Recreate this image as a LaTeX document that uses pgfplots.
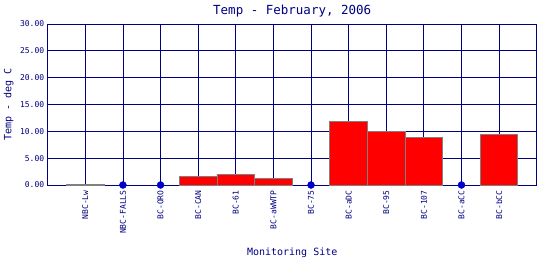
\documentclass[border=0pt]{standalone}
\usepackage{fontspec}
\setmainfont{DejaVu Sans Mono}
\usepackage{pgfplots}
\pgfplotsset{compat=1.18}
\definecolor{navy}{RGB}{0,0,128}
\definecolor{dotblue}{RGB}{0,0,205}
\definecolor{barred}{RGB}{255,0,0}
\definecolor{bargray}{RGB}{128,128,128}
\begin{document}
\begin{tikzpicture}
\useasboundingbox (0pt,0pt) rectangle (540pt,260pt);
\begin{axis}[
  at={(47.7pt,75pt)}, anchor=south west,
  scale only axis, width=489pt, height=161pt,
  xmin=-1, xmax=12, ymin=0, ymax=30,
  ytick={0,5,10,15,20,25,30},
  xtick={0,1,2,3,4,5,6,7,8,9,10,11},
  xticklabels={NBC-Lw,NBC-FALLS,BC-ORO,BC-CAN,BC-61,BC-aWWTP,BC-75,BC-aDC,BC-95,BC-107,BC-aCC,BC-bCC},
  grid=major,
  grid style={draw=navy, line width=0.8pt},
  major grid style={draw=navy, line width=0.8pt},
  axis line style={draw=navy, line width=0.8pt},
  major tick style={draw=none},
  yticklabel style={font=\fontsize{8}{8}\selectfont, color=navy,
    /pgf/number format/.cd, fixed, fixed zerofill, precision=2, assume math mode=true},
  xticklabel style={font=\fontsize{8}{8}\selectfont, color=navy, rotate=90, anchor=east, xshift=-2pt},
  title={Temp - February, 2006},
  title style={font=\fontsize{12.5}{12.5}\selectfont, color=navy, at={(axis description cs:0.5,1.045)}, anchor=center},
  xlabel={Monitoring Site},
  xlabel style={font=\fontsize{10}{10}\selectfont, color=navy, at={(axis description cs:0.5,-0.422)}, anchor=center},
  ylabel={Temp - deg C},
  ylabel style={font=\fontsize{10}{10}\selectfont, color=navy, at={(axis description cs:-0.08,0.5)}, anchor=center},
  clip=false,
]
\addplot[ybar, bar width=1, fill=barred, draw=bargray, line width=0.9pt] coordinates {
  (0,0.15) (3,1.6) (4,2.0) (5,1.25) (7,11.85) (8,10.0) (9,8.9) (11,9.45)
};
\addplot[only marks, mark=*, mark size=3.5pt, color=dotblue] coordinates {
  (1,0) (2,0) (6,0) (10,0)
};
\end{axis}
\end{tikzpicture}
\end{document}
